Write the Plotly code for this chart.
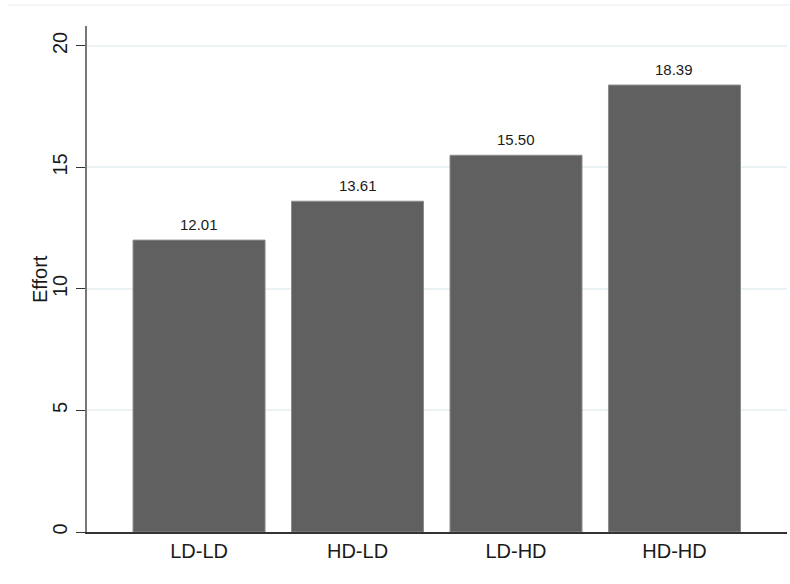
import plotly.graph_objects as go

categories = ["LD-LD", "HD-LD", "LD-HD", "HD-HD"]
effort = [12.01, 13.61, 15.50, 18.39]
y_ticks = [0, 5, 10, 15, 20]

FONT = "Liberation Sans, Arial"

fig = go.Figure()
fig.add_trace(go.Bar(
    x=list(range(len(categories))), y=effort, width=0.833,
    marker=dict(color="#606060", line=dict(color="#8c8c8c", width=1)),
    hoverinfo="skip", showlegend=False,
))
for i, v in enumerate(effort):
    fig.add_annotation(x=i, y=v, text=f"{v:.2f}", showarrow=False,
                       yanchor="bottom", yshift=5,
                       font=dict(family=FONT, size=15, color="#1a1a1a"))

# y-axis title
fig.add_annotation(xref="paper", yref="paper", x=-0.0671, y=0.5, text="Effort",
                   textangle=-90, showarrow=False, xanchor="center", yanchor="middle",
                   font=dict(family=FONT, size=20, color="#1a1a1a"))

# faint outer frame line at top
fig.add_shape(type="line", xref="paper", yref="paper", x0=-0.1129, x1=1.0043,
              y0=1.0415, y1=1.0415, line=dict(color="#f0f2f3", width=1.5))

fig.update_layout(
    width=790, height=584,
    margin=dict(l=87, r=3, t=26, b=52),
    paper_bgcolor="white", plot_bgcolor="white",
    font=dict(family=FONT, size=20, color="#1a1a1a"),
    xaxis=dict(
        range=[-0.707, 3.71], tickmode="array", tickvals=list(range(len(categories))),
        ticktext=categories, showgrid=False, zeroline=False,
        showline=True, linecolor="#333333", linewidth=1.5, ticks="",
        tickfont=dict(size=20), fixedrange=True,
    ),
    yaxis=dict(
        range=[0, 20.82], tickmode="array", tickvals=y_ticks,
        ticktext=[str(t) for t in y_ticks], tickangle=-90,
        showgrid=True, gridcolor="#eaf2f3", gridwidth=1.5, zeroline=False,
        showline=True, linecolor="#777777", linewidth=1.5,
        ticks="outside", ticklen=9, tickcolor="#333333", tickwidth=1.2,
        tickfont=dict(size=20), ticklabelstandoff=1,
        fixedrange=True,
    ),
)

fig.write_html("out.html", config={"displayModeBar": False},
               post_script="document.body.style.margin='0px';")
